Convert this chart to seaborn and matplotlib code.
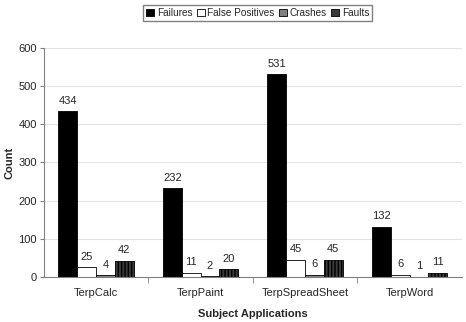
import matplotlib
matplotlib.use('Agg')
import matplotlib.pyplot as plt
import pandas as pd
import seaborn as sns

# 数据
apps = ['TerpCalc', 'TerpPaint', 'TerpSpreadSheet', 'TerpWord']
series = ['Failures', 'False Positives', 'Crashes', 'Faults']
failures = [434, 232, 531, 132]
false_pos = [25, 11, 45, 6]
crashes = [4, 2, 6, 1]
faults = [42, 20, 45, 11]

df = pd.DataFrame({'app': apps * 4,
                   'kind': [s for s in series for _ in apps],
                   'count': failures + false_pos + crashes + faults})

sns.set_style('white')
plt.rcParams['font.family'] = ['Liberation Sans', 'DejaVu Sans']

colors = ['#000000', '#ffffff', '#808080', '#3a3a3a']

fig = plt.figure(figsize=(4.66, 3.22), dpi=100)
ax = fig.add_axes([0.094, 0.14, 0.897, 0.711])
sns.barplot(data=df, x='app', y='count', hue='kind', hue_order=series,
            palette=colors, width=0.72, gap=0, edgecolor='black',
            linewidth=0.6, ax=ax, legend=True)

# 竖线阴影
for bar in ax.containers[3]:
    bar.set_hatch('|||||')

for cont in ax.containers:
    ax.bar_label(cont, padding=4, fontsize=8)

ax.set_ylim(0, 600)
ax.set_yticks(range(0, 601, 100))
ax.yaxis.grid(True, color='#e3e3e3', linewidth=0.8)
ax.set_axisbelow(True)
ax.set_xlim(-0.5, 3.5)
ax.set_xlabel('Subject Applications', fontsize=8, fontweight='bold', labelpad=8)
ax.set_ylabel('Count', fontsize=8, fontweight='bold', labelpad=3)
ax.tick_params(axis='both', labelsize=8, length=3, color='#808080',
               direction='out', bottom=True, left=True)
ax.tick_params(axis='y', pad=2)
ax.set_xticks([0.5, 1.5, 2.5], minor=True)
ax.tick_params(axis='x', which='major', length=0, pad=8)
ax.tick_params(axis='x', which='minor', length=4, color='#808080', bottom=True)
for s in ['top', 'right']:
    ax.spines[s].set_visible(False)
for s in ['left', 'bottom']:
    ax.spines[s].set_color('#808080')

handles, labels = ax.get_legend_handles_labels()
ax.legend(handles, labels, loc='center', bbox_to_anchor=(0.512, 1.153),
          ncol=4, fontsize=7.2, frameon=True, fancybox=False,
          edgecolor='#606060', handlelength=0.8, handleheight=0.8,
          handletextpad=0.25, columnspacing=0.45, borderpad=0.3)

fig.savefig('out.png', dpi=100)
